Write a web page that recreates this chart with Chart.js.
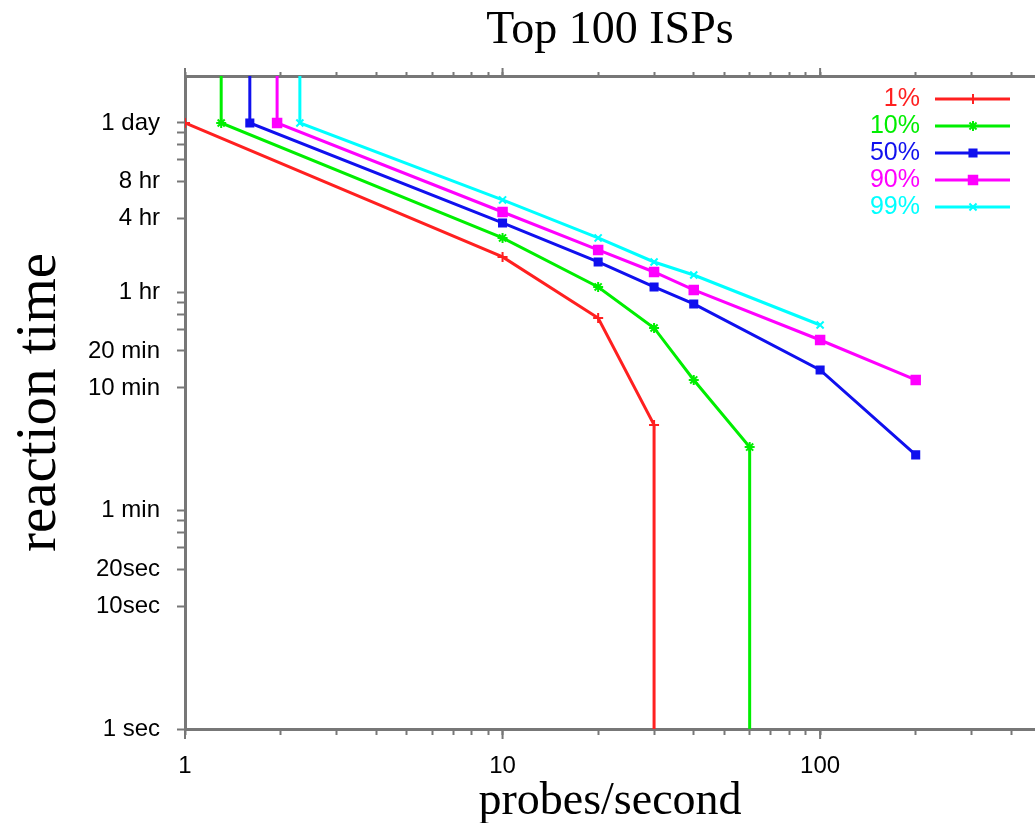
<!DOCTYPE html>
<html><head><meta charset="utf-8">
<script src="https://cdn.jsdelivr.net/npm/chart.js@4.4.1/dist/chart.umd.min.js"></script>
<style>html,body{margin:0;padding:0;background:#fff;overflow:hidden;width:1035px;height:823px}canvas{display:block}</style>
</head><body>
<canvas id="c" width="1043" height="823"></canvas>
<script>
// ---- data (probes/second vs reaction time in seconds) ----
const seriesLabels = ['1%', '10%', '50%', '90%', '99%'];
const p1X  = [1, 10, 20, 30, 30];
const p1Y  = [86400, 7000, 2230, 300, 1];
const p10X = [1.3, 1.3, 10, 20, 30, 40, 60, 60];
const p10Y = [1e6, 86400, 10000, 3990, 1848, 697, 198, 1];
const p50X = [1.6, 1.6, 10, 20, 30, 40, 100, 200];
const p50Y = [1e6, 86400, 13240, 6370, 3990, 2900, 840, 171];
const p90X = [1.95, 1.95, 10, 20, 30, 40, 100, 200];
const p90Y = [1e6, 86400, 16270, 7980, 5280, 3770, 1475, 697];
const p99X = [2.3, 2.3, 10, 20, 30, 40, 100];
const p99Y = [1e6, 86400, 20400, 10000, 6370, 4990, 1954];

const xTickValues = [1,2,3,4,5,6,7,8,9,10,20,30,40,50,60,70,80,90,100,200,300,400];
const xMajorValues = [1, 10, 100];
const xTickLabels = ['1', '10', '100'];
const yTickValues = [1,10,20,30,40,50,60,600,1200,1800,2400,3000,3600,14400,28800,43200,57600,72000,86400];
const yLabelValues = [1, 10, 20, 60, 600, 1200, 3600, 14400, 28800, 86400];
const yTickLabels = ['1 sec', '10sec', '20sec', '1 min', '10 min', '20 min', '1 hr', '4 hr', '8 hr', '1 day'];

const X_MIN = 1, X_MAX = 475, Y_MIN = 1, Y_MAX = 208500;

// ---- styles ----
const AXIS = '#777777';
const colors = ['#ff2020', '#00ee00', '#1010ee', '#ff00ff', '#00ffff'];
const pStyles = ['cross', 'star', 'rect', 'rect', 'crossRot'];
const pRadius = [5, 5, 5, 6, 5];
const SANS = '"Liberation Sans", Arial, Helvetica, sans-serif';
const SERIF = '"Liberation Serif", "Times New Roman", serif';

const xs = [p1X, p10X, p50X, p90X, p99X];
const ys = [p1Y, p10Y, p50Y, p90Y, p99Y];

const datasets = seriesLabels.map((lab, i) => ({
  label: lab,
  data: xs[i].map((x, j) => ({x: x, y: ys[i][j]})),
  borderColor: colors[i],
  backgroundColor: colors[i],
  borderWidth: 3,
  pointStyle: pStyles[i],
  pointBorderWidth: 2,
  legendRadius: pRadius[i],
  pointRadius: ctx => (ctx.raw && (ctx.raw.y >= Y_MAX || ctx.raw.y <= Y_MIN)) ? 0 : pRadius[i],
  pointHoverRadius: ctx => (ctx.raw && (ctx.raw.y >= Y_MAX || ctx.raw.y <= Y_MIN)) ? 0 : pRadius[i],
  tension: 0,
  fill: false
}));

const tickPlugin = {
  id: 'majorTicks',
  afterDraw(chart) {
    const ctx = chart.ctx, sx = chart.scales.x, st = chart.scales.x2;
    ctx.save();
    ctx.strokeStyle = AXIS; ctx.lineWidth = 2;
    xMajorValues.forEach(v => {
      const a = sx.getPixelForValue(v);
      ctx.beginPath(); ctx.moveTo(a, sx.top); ctx.lineTo(a, sx.top + 10); ctx.stroke();
      const b = st.getPixelForValue(v);
      ctx.beginPath(); ctx.moveTo(b, st.bottom); ctx.lineTo(b, st.bottom - 8); ctx.stroke();
    });
    ctx.restore();
  }
};

const legendPlugin = {
  id: 'cornerLegend',
  afterDatasetsDraw(chart) {
    const {ctx, chartArea} = chart;
    ctx.save();
    ctx.font = '25px ' + SANS;
    ctx.textAlign = 'right';
    ctx.textBaseline = 'middle';
    chart.data.datasets.forEach((ds, i) => {
      const y = chartArea.top + 23 + i * 27;
      const xr = chartArea.right;
      ctx.fillStyle = ds.borderColor;
      ctx.strokeStyle = ds.borderColor;
      ctx.fillText(ds.label, xr - 115, y);
      ctx.lineWidth = 3;
      ctx.beginPath(); ctx.moveTo(xr - 100, y); ctx.lineTo(xr - 25, y); ctx.stroke();
      ctx.lineWidth = ds.pointBorderWidth;
      Chart.helpers.drawPoint(ctx, {pointStyle: ds.pointStyle, radius: ds.legendRadius, borderWidth: ds.pointBorderWidth, rotation: 0}, xr - 62, y);
    });
    ctx.restore();
  }
};

new Chart(document.getElementById('c'), {
  type: 'line',
  data: {datasets},
  options: {
    responsive: false,
    devicePixelRatio: 1,
    animation: false,
    events: [],
    layout: {padding: 0},
    plugins: {
      legend: {display: false},
      tooltip: {enabled: false},
      title: {
        display: true,
        text: 'Top 100 ISPs',
        fullSize: false,
        color: '#000',
        font: {family: SERIF, size: 46, weight: 'normal', lineHeight: 1},
        padding: {top: 8, bottom: 12}
      }
    },
    scales: {
      x: {
        type: 'logarithmic',
        position: 'bottom',
        min: X_MIN, max: X_MAX,
        afterBuildTicks: s => { s.ticks = xTickValues.map(v => ({value: v, major: xMajorValues.includes(v)})); },
        afterFit: s => { s.height = 94; },
        ticks: {
          autoSkip: false, maxRotation: 0, padding: 17, color: '#000',
          font: {family: SANS, size: 24},
          callback: v => { const k = xMajorValues.indexOf(v); return k >= 0 ? xTickLabels[k] : ''; }
        },
        grid: {drawOnChartArea: false, drawTicks: true, tickLength: 6, tickColor: AXIS, tickWidth: 2},
        border: {display: true, color: AXIS, width: 3},
        title: {
          display: true, text: 'probes/second', color: '#000',
          font: {family: SERIF, size: 46, lineHeight: 1},
          padding: {top: 0, bottom: -2}
        }
      },
      x2: {
        type: 'logarithmic',
        position: 'top',
        min: X_MIN, max: X_MAX,
        afterBuildTicks: s => { s.ticks = xTickValues.map(v => ({value: v})); },
        afterFit: s => { s.height = 10; },
        ticks: {display: false, autoSkip: false},
        grid: {drawOnChartArea: false, drawTicks: true, tickLength: 4, tickColor: AXIS, tickWidth: 2},
        border: {display: true, color: AXIS, width: 3}
      },
      y: {
        type: 'logarithmic',
        position: 'left',
        min: Y_MIN, max: Y_MAX,
        afterBuildTicks: s => { s.ticks = yTickValues.map(v => ({value: v})); },
        afterFit: s => { s.width = 185; },
        ticks: {
          autoSkip: false, padding: 17, color: '#000',
          font: {family: SANS, size: 24},
          callback: v => { const k = yLabelValues.indexOf(v); return k >= 0 ? yTickLabels[k] : ''; }
        },
        grid: {drawOnChartArea: false, drawTicks: true, tickLength: 8, tickColor: AXIS, tickWidth: 2},
        border: {display: true, color: AXIS, width: 3},
        title: {
          display: true, text: 'reaction time', color: '#000',
          font: {family: SERIF, size: 57, lineHeight: 1},
          padding: {top: 12, bottom: 0}
        }
      }
    }
  },
  plugins: [tickPlugin, legendPlugin]
});
</script>
</body></html>
